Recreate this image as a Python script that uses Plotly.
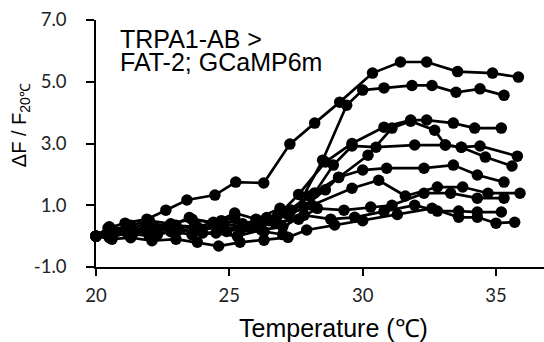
import plotly.graph_objects as go

# ---- data ----
temp_a = [20.0, 20.45, 21.09, 21.91, 22.62, 23.41, 24.46, 25.24, 26.29, 27.27, 28.2, 29.14, 30.37, 31.42, 32.4, 33.56, 34.87, 35.84]
resp_a = [0, 0.26, 0.42, 0.55, 0.84, 1.17, 1.33, 1.75, 1.72, 2.98, 3.66, 4.34, 5.28, 5.64, 5.64, 5.33, 5.28, 5.15]

temp_b = [20.0, 20.5, 21.1, 21.9, 22.8, 23.7, 24.6, 25.5, 26.3, 27.0, 28.5, 29.4, 30.0, 30.8, 31.85, 32.6, 33.5, 34.4, 35.3]
resp_b = [0, 0.1, 0.15, 0.3, 0.2, 0.35, 0.25, 0.3, 0.15, 0.05, 2.46, 4.24, 4.73, 4.8, 4.88, 4.88, 4.66, 4.77, 4.56]

temp_c = [20.0, 20.6, 21.3, 22.0, 22.8, 23.6, 24.4, 25.2, 26.0, 26.8, 27.6, 28.6, 29.6, 30.8, 31.8, 32.4, 33.4, 34.2, 35.2]
resp_c = [0, 0.2, 0.35, 0.5, 0.4, 0.55, 0.45, 0.6, 0.3, 0.65, 1.35, 2.4, 3.0, 3.53, 3.76, 3.76, 3.66, 3.5, 3.5]

temp_d = [20.0, 20.5, 21.2, 22.0, 22.9, 23.7, 24.6, 25.4, 26.2, 27.1, 28.0, 29.1, 30.2, 31.1, 31.8, 32.7, 33.1, 33.7, 34.6, 35.6]
resp_d = [0, 0.05, 0.2, 0.1, 0.25, 0.15, 0.3, 0.2, 0.4, 0.75, 1.3, 1.9, 2.62, 3.5, 3.72, 3.43, 2.95, 2.88, 2.56, 2.27]

temp_e = [20.0, 20.7, 21.4, 22.2, 23.0, 23.9, 24.8, 25.6, 26.5, 27.3, 28.2, 28.9, 29.6, 30.5, 31.95, 33.1, 33.7, 34.4, 35.8]
resp_e = [0, 0.15, 0.1, 0.25, 0.35, 0.2, 0.4, 0.3, 0.5, 0.85, 1.4, 2.3, 2.92, 2.88, 2.95, 2.95, 2.88, 2.92, 2.59]

temp_f = [20.0, 20.5, 21.2, 22.0, 22.7, 23.5, 24.4, 25.2, 26.0, 26.9, 27.8, 28.6, 29.1, 30.0, 30.9, 32.3, 33.4, 34.3, 35.3]
resp_f = [0, 0.3, 0.2, 0.45, 0.3, 0.6, 0.4, 0.75, 0.55, 0.9, 0.95, 1.5, 1.91, 2.14, 2.2, 2.2, 2.3, 1.98, 1.75]

temp_g = [20.0, 20.6, 21.3, 22.1, 22.9, 23.8, 24.7, 25.5, 26.4, 27.2, 28.1, 29.6, 30.6, 31.6, 32.8, 33.75, 34.7, 35.9]
resp_g = [0, 0.1, 0.25, 0.15, 0.35, 0.3, 0.5, 0.4, 0.6, 0.7, 1.0, 1.55, 1.81, 1.3, 1.59, 1.59, 1.39, 1.39]

temp_h = [20.0, 20.6, 21.4, 22.3, 23.1, 24.0, 24.9, 25.8, 26.7, 27.6, 28.3, 29.3, 30.3, 31.1, 32.3, 33.3, 34.3, 35.3]
resp_h = [0, 0.0, 0.15, 0.05, 0.2, 0.1, 0.15, 0.3, 0.45, 0.55, 0.9, 0.84, 0.94, 1.0, 1.39, 1.39, 1.23, 1.23]

temp_i = [20.0, 20.5, 21.2, 22.0, 22.8, 23.6, 24.5, 25.3, 26.2, 27.0, 27.8, 28.8, 29.7, 30.8, 31.95, 32.8, 33.6, 34.3, 35.2]
resp_i = [0, -0.05, 0.1, 0.0, 0.15, 0.05, 0.1, 0.0, 0.2, 0.3, 0.68, 0.55, 0.61, 0.8, 1.0, 0.81, 0.81, 0.78, 0.78]

temp_j = [20.0, 20.6, 21.3, 22.1, 23.0, 23.8, 24.6, 25.4, 26.3, 27.2, 27.9, 28.95, 30.0, 31.3, 32.6, 33.6, 34.3, 35.0, 35.7]
resp_j = [0, -0.1, -0.05, -0.15, -0.1, -0.2, -0.32, -0.2, -0.13, -0.04, 0.2, 0.36, 0.5, 0.7, 0.9, 0.61, 0.61, 0.42, 0.45]

y_tick_vals = [-1, 1, 3, 5, 7]
y_tick_text = ["-1.0", "1.0", "3.0", "5.0", "7.0"]
x_tick_vals = [20, 25, 30, 35]

series = [(temp_a, resp_a), (temp_b, resp_b), (temp_c, resp_c), (temp_d, resp_d),
          (temp_e, resp_e), (temp_f, resp_f), (temp_g, resp_g), (temp_h, resp_h),
          (temp_i, resp_i), (temp_j, resp_j)]

fig = go.Figure()
for t, r in series:
    fig.add_trace(go.Scatter(x=t, y=r, mode="lines+markers",
                             line=dict(color="black", width=2.7),
                             marker=dict(color="black", size=11.5),
                             showlegend=False, cliponaxis=False))

tick_font = dict(family="Lato, Open Sans, sans-serif", size=18.5, color="#222")
fig.update_layout(
    width=544, height=342,
    margin=dict(l=96, r=0, t=20, b=75),
    paper_bgcolor="white", plot_bgcolor="white",
    xaxis=dict(range=[20, 36.8], tickvals=x_tick_vals, showgrid=False, zeroline=False,
               showline=True, linecolor="black", linewidth=1.5,
               ticks="outside", ticklen=7, tickwidth=1.5, tickcolor="black",
               tickfont=tick_font, ticklabelstandoff=4),
    yaxis=dict(range=[-1, 7], tickvals=y_tick_vals, ticktext=y_tick_text,
               showgrid=False, zeroline=False,
               showline=True, linecolor="black", linewidth=1.5,
               ticks="outside", ticklen=8, tickwidth=1.5, tickcolor="black",
               tickfont=tick_font, ticklabelstandoff=16),
    annotations=[
        dict(text="TRPA1-AB >", xref="paper", yref="paper", x=0.049, y=0.923,
             xanchor="left", yanchor="middle", showarrow=False, height=24,
             font=dict(family="Liberation Sans, Arial", size=25, color="black")),
        dict(text="FAT-2; GCaMP6m", xref="paper", yref="paper", x=0.049, y=0.830,
             xanchor="left", yanchor="middle", showarrow=False, height=24,
             font=dict(family="Liberation Sans, Arial", size=25, color="black")),
        dict(text="Temperature (℃)", xref="paper", yref="paper", x=0.531, y=-0.247,
             xanchor="center", yanchor="middle", showarrow=False,
             font=dict(family="Liberation Sans, Arial", size=25, color="black")),
        dict(text="ΔF / F<sub>20℃</sub>", xref="paper", yref="paper", x=-0.167, y=0.575,
             xanchor="center", yanchor="middle", showarrow=False, textangle=-90,
             font=dict(family="Liberation Sans, Arial", size=20, color="black")),
    ],
)

fig.write_html("out.html")
